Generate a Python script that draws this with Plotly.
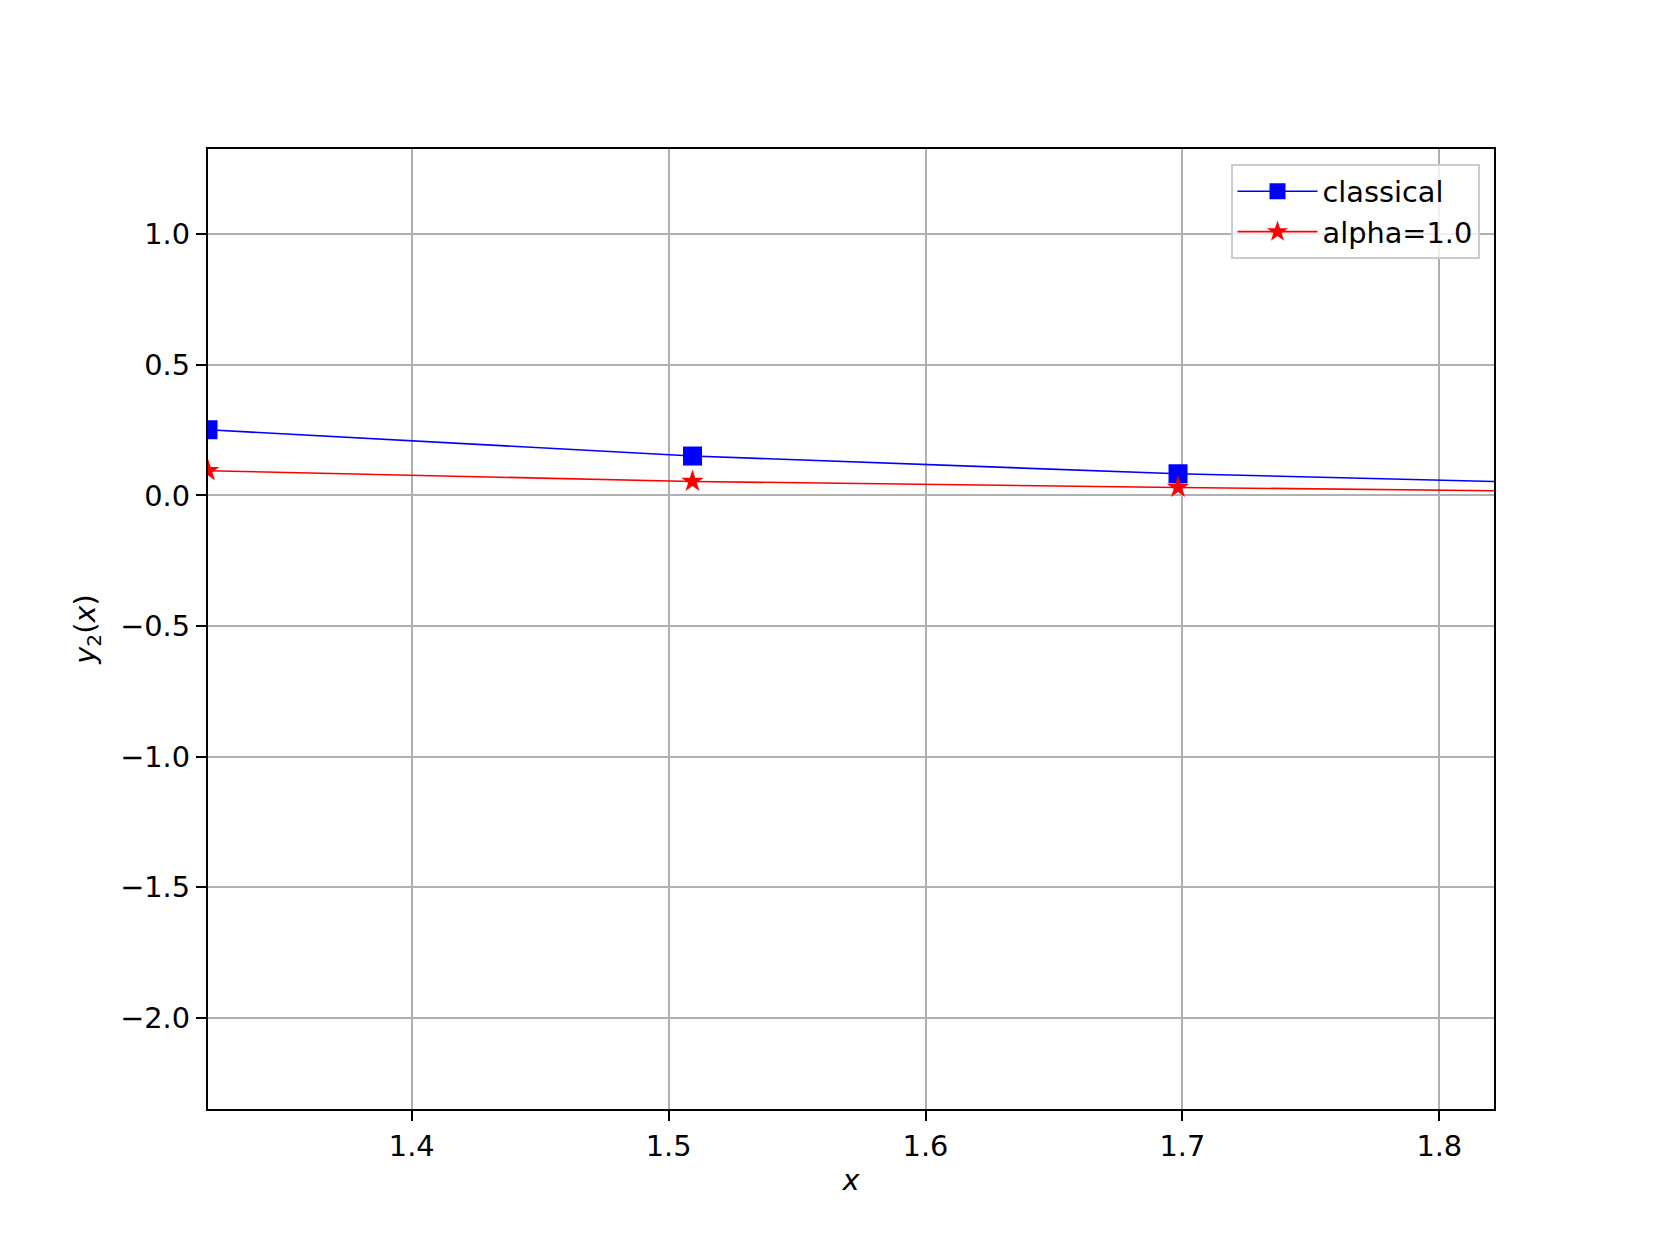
import plotly.graph_objects as go

# Data
x_vals = [1.3207, 1.5093, 1.6983, 1.887]
classical = [0.2517, 0.151, 0.0831, 0.038]
alpha_1 = [0.0946, 0.0536, 0.0307, 0.011]

x_ticks = [1.4, 1.5, 1.6, 1.7, 1.8]
y_ticks = [-2.0, -1.5, -1.0, -0.5, 0.0, 0.5, 1.0]

FONT = "DejaVu Sans"
FS = 28.8
LW = 2.3

fig = go.Figure()
fig.add_trace(go.Scatter(
    x=x_vals, y=classical, mode="lines+markers", name="classical",
    line=dict(color="blue", width=1.6),
    marker=dict(symbol="square", size=19, color="blue"),
))
fig.add_trace(go.Scatter(
    x=x_vals, y=alpha_1, mode="lines+markers", name="alpha=1.0",
    line=dict(color="red", width=1.6),
    marker=dict(symbol="star", size=17, color="red"),
))

OFF = 8  # page body margin
W, H = 1661 - 2 * OFF, 1246 - 2 * OFF
left, right, top, bottom = 207.7, 1494.5, 149.3, 1109.0  # page coordinates

axis_common = dict(
    showline=True, linecolor="black", linewidth=LW, mirror=True,
    ticks="outside", ticklen=10, tickwidth=LW, tickcolor="black",
    showgrid=True, gridcolor="#b0b0b0", gridwidth=LW,
    zeroline=False,
    tickfont=dict(family=FONT, size=FS, color="black"),
    tickformat=".1f",
)

fig.update_layout(
    width=W, height=H,
    margin=dict(l=left - OFF, r=W + OFF - right, t=top - OFF, b=H + OFF - bottom, autoexpand=False),
    paper_bgcolor="white", plot_bgcolor="white",
    font=dict(family=FONT, size=FS, color="black"),
    xaxis=dict(range=[1.3207, 1.8213], tickvals=x_ticks,
               title=dict(text="<i>x</i>", font=dict(family=FONT, size=FS), standoff=8),
               **axis_common),
    yaxis=dict(range=[-2.350, 1.327], tickvals=y_ticks,
               title=dict(text="<i>y</i><sub>2</sub>(<i>x</i>)", font=dict(family=FONT, size=FS), standoff=16),
               **axis_common),
    legend=dict(
        x=(1480 - left) / (right - left), xanchor="right",
        y=(bottom - 164.3) / (bottom - top), yanchor="top",
        bgcolor="rgba(255,255,255,0.8)", bordercolor="#cccccc", borderwidth=2,
        font=dict(family=FONT, size=FS, color="black"),
        itemwidth=80,
    ),
    showlegend=True,
)

fig.write_html("out.html")
